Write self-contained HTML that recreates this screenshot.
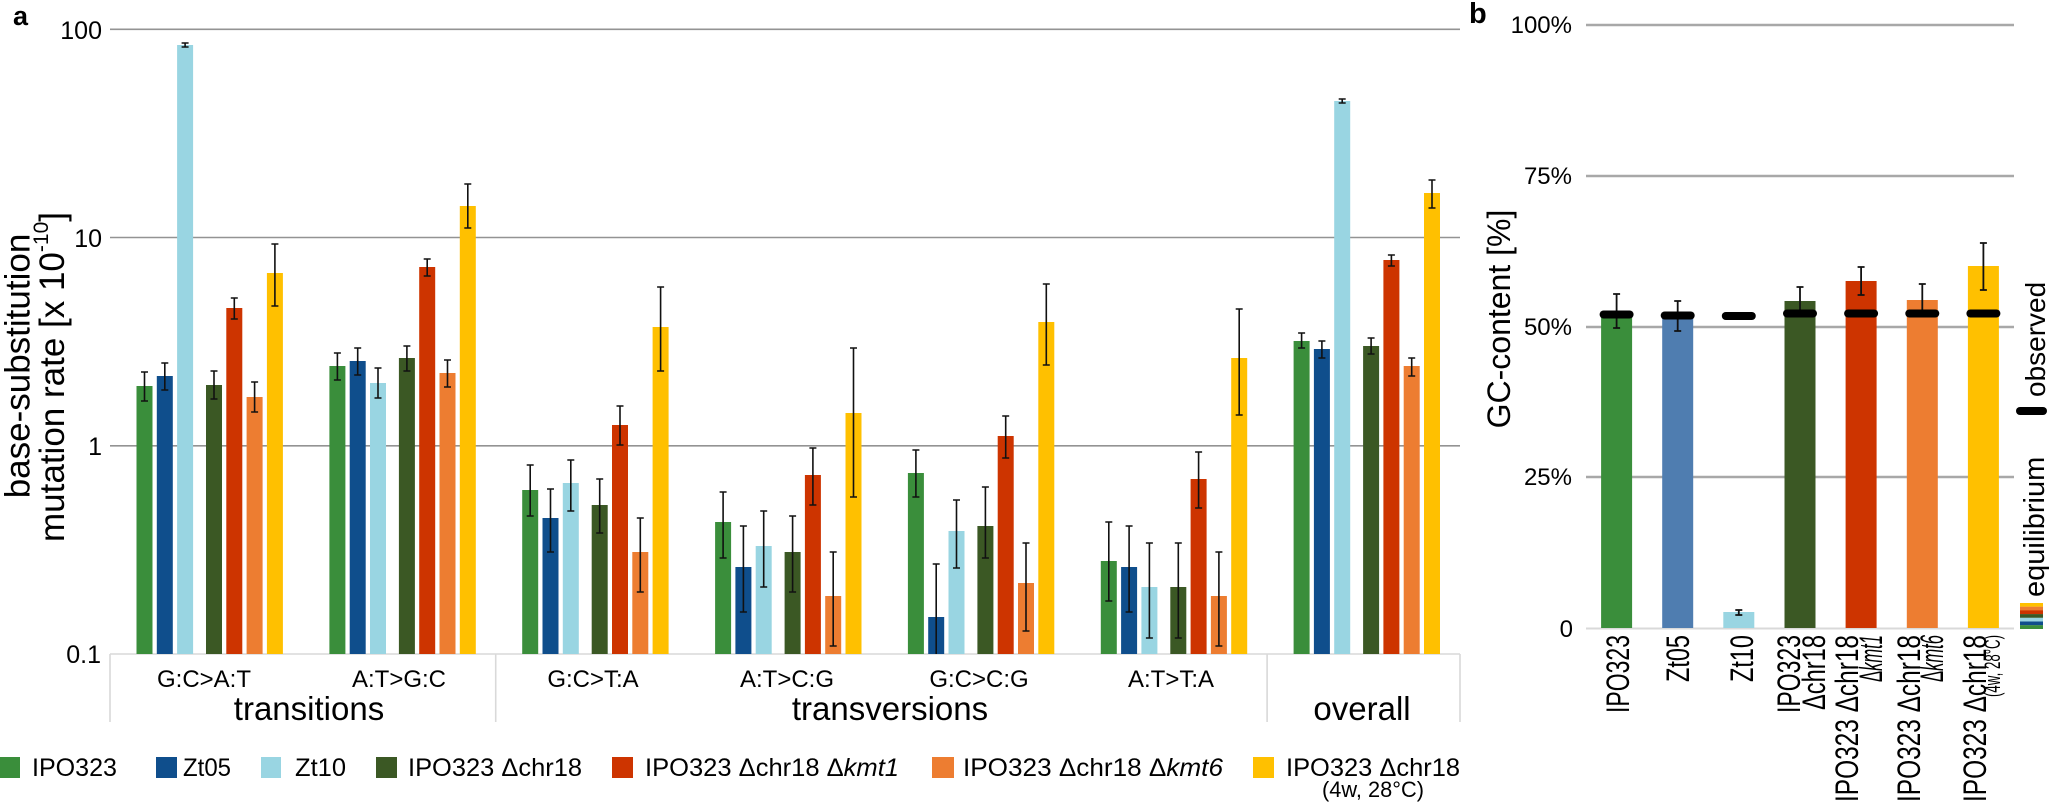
<!DOCTYPE html>
<html><head><meta charset="utf-8"><style>
html,body{margin:0;padding:0;background:#fff;}
svg{display:block;font-family:"Liberation Sans",Arial,sans-serif;}
</style></head><body>
<svg width="2049" height="805" viewBox="0 0 2049 805" xmlns="http://www.w3.org/2000/svg">
<rect width="2049" height="805" fill="#fff"/>
<!-- ===== Panel a ===== -->
<text x="13" y="25" font-size="27" font-weight="bold">a</text>
<g stroke="#939393" stroke-width="1.6">
<line x1="110" y1="29.3" x2="1460" y2="29.3"/>
<line x1="110" y1="237.5" x2="1460" y2="237.5"/>
<line x1="110" y1="445.8" x2="1460" y2="445.8"/>
</g>
<g stroke="#d9d9d9" stroke-width="1.6">
<line x1="110" y1="654" x2="1460" y2="654"/>
<line x1="110" y1="654" x2="110" y2="722"/>
<line x1="495.7" y1="654" x2="495.7" y2="722"/>
<line x1="1267.1" y1="654" x2="1267.1" y2="722"/>
<line x1="1460" y1="654" x2="1460" y2="722"/>
</g>
<g font-size="25" text-anchor="end">
<text x="102" y="39">100</text>
<text x="102" y="247">10</text>
<text x="102" y="455">1</text>
<text x="101" y="663">0.1</text>
</g>
<text transform="translate(29.5,366) rotate(-90)" text-anchor="middle" font-size="35">base-substitution</text>
<text transform="translate(64,377) rotate(-90)" text-anchor="middle" font-size="35">mutation rate [x 10<tspan dy="-16" font-size="21">-10</tspan><tspan dy="16">]</tspan></text>

<!-- bars panel a -->
<g>
<g fill="#3a8e3b">
<rect x="136.5" y="386" width="16" height="268"/>
<rect x="329.4" y="366" width="16" height="288"/>
<rect x="522.2" y="490" width="16" height="164"/>
<rect x="715.1" y="522" width="16" height="132"/>
<rect x="907.9" y="473" width="16" height="181"/>
<rect x="1100.8" y="561" width="16" height="93"/>
<rect x="1293.6" y="341" width="16" height="313"/>
</g>
<g fill="#0f4e8c">
<rect x="156.8" y="376" width="16" height="278"/>
<rect x="349.7" y="361" width="16" height="293"/>
<rect x="542.5" y="518" width="16" height="136"/>
<rect x="735.4" y="567" width="16" height="87"/>
<rect x="928.2" y="617" width="16" height="37"/>
<rect x="1121.1" y="567" width="16" height="87"/>
<rect x="1313.9" y="349" width="16" height="305"/>
</g>
<g fill="#99d5e2">
<rect x="177.1" y="45" width="16" height="609"/>
<rect x="370" y="383" width="16" height="271"/>
<rect x="562.8" y="483" width="16" height="171"/>
<rect x="755.7" y="546" width="16" height="108"/>
<rect x="948.5" y="531" width="16" height="123"/>
<rect x="1141.4" y="587" width="16" height="67"/>
<rect x="1334.2" y="101" width="16" height="553"/>
</g>
<g fill="#3b5824">
<rect x="206" y="385" width="16" height="269"/>
<rect x="398.9" y="358" width="16" height="296"/>
<rect x="591.7" y="505" width="16" height="149"/>
<rect x="784.6" y="552" width="16" height="102"/>
<rect x="977.4" y="526" width="16" height="128"/>
<rect x="1170.3" y="587" width="16" height="67"/>
<rect x="1363.1" y="346" width="16" height="308"/>
</g>
<g fill="#cd3400">
<rect x="226.3" y="308" width="16" height="346"/>
<rect x="419.2" y="267" width="16" height="387"/>
<rect x="612" y="425" width="16" height="229"/>
<rect x="804.9" y="475" width="16" height="179"/>
<rect x="997.7" y="436" width="16" height="218"/>
<rect x="1190.6" y="479" width="16" height="175"/>
<rect x="1383.4" y="260" width="16" height="394"/>
</g>
<g fill="#ed7d31">
<rect x="246.6" y="397" width="16" height="257"/>
<rect x="439.5" y="373" width="16" height="281"/>
<rect x="632.3" y="552" width="16" height="102"/>
<rect x="825.2" y="596" width="16" height="58"/>
<rect x="1018" y="583" width="16" height="71"/>
<rect x="1210.9" y="596" width="16" height="58"/>
<rect x="1403.7" y="366" width="16" height="288"/>
</g>
<g fill="#ffc000">
<rect x="266.9" y="273" width="16" height="381"/>
<rect x="459.8" y="206" width="16" height="448"/>
<rect x="652.6" y="327" width="16" height="327"/>
<rect x="845.5" y="413" width="16" height="241"/>
<rect x="1038.3" y="322" width="16" height="332"/>
<rect x="1231.2" y="358" width="16" height="296"/>
<rect x="1424" y="193" width="16" height="461"/>
</g>
</g>
<!-- error bars panel a -->
<path fill="none" stroke="#111" stroke-width="1.6" d="
M144.5,372V401M141,372H148M141,401H148
M164.8,363V390M161.3,363H168.3M161.3,390H168.3
M185.1,43V47M181.6,43H188.6M181.6,47H188.6
M214,371V399M210.5,371H217.5M210.5,399H217.5
M234.3,298V319M230.8,298H237.8M230.8,319H237.8
M254.6,382V412M251.1,382H258.1M251.1,412H258.1
M274.9,244V306M271.4,244H278.4M271.4,306H278.4
M337.4,353V380M333.9,353H340.9M333.9,380H340.9
M357.7,348V375M354.2,348H361.2M354.2,375H361.2
M378,368V398M374.5,368H381.5M374.5,398H381.5
M406.9,346V371M403.4,346H410.4M403.4,371H410.4
M427.2,259V276M423.7,259H430.7M423.7,276H430.7
M447.5,360V387M444,360H451M444,387H451
M467.8,184V228M464.3,184H471.3M464.3,228H471.3
M530.2,465V516M526.7,465H533.7M526.7,516H533.7
M550.5,489V552M547,489H554M547,552H554
M570.8,460V511M567.3,460H574.3M567.3,511H574.3
M599.7,479V533M596.2,479H603.2M596.2,533H603.2
M620,406V445M616.5,406H623.5M616.5,445H623.5
M640.3,518V592M636.8,518H643.8M636.8,592H643.8
M660.6,287V371M657.1,287H664.1M657.1,371H664.1
M723.1,492V558M719.6,492H726.6M719.6,558H726.6
M743.4,526V612M739.9,526H746.9M739.9,612H746.9
M763.7,511V587M760.2,511H767.2M760.2,587H767.2
M792.6,516V592M789.1,516H796.1M789.1,592H796.1
M812.9,448V505M809.4,448H816.4M809.4,505H816.4
M833.2,552V646M829.7,552H836.7M829.7,646H836.7
M853.5,348V497M850,348H857M850,497H857
M915.9,450V497M912.4,450H919.4M912.4,497H919.4
M936.2,564V654M932.7,564H939.7
M956.5,500V568M953,500H960M953,568H960
M985.4,487V558M981.9,487H988.9M981.9,558H988.9
M1005.7,416V458M1002.2,416H1009.2M1002.2,458H1009.2
M1026,543V631M1022.5,543H1029.5M1022.5,631H1029.5
M1046.3,284V365M1042.8,284H1049.8M1042.8,365H1049.8
M1108.8,522V601M1105.3,522H1112.3M1105.3,601H1112.3
M1129.1,526V612M1125.6,526H1132.6M1125.6,612H1132.6
M1149.4,543V638M1145.9,543H1152.9M1145.9,638H1152.9
M1178.3,543V638M1174.8,543H1181.8M1174.8,638H1181.8
M1198.6,452V508M1195.1,452H1202.1M1195.1,508H1202.1
M1218.9,552V646M1215.4,552H1222.4M1215.4,646H1222.4
M1239.2,309V415M1235.7,309H1242.7M1235.7,415H1242.7
M1301.6,333V348M1298.1,333H1305.1M1298.1,348H1305.1
M1321.9,341V358M1318.4,341H1325.4M1318.4,358H1325.4
M1342.2,99V103M1338.7,99H1345.7M1338.7,103H1345.7
M1371.1,338V354M1367.6,338H1374.6M1367.6,354H1374.6
M1391.4,255V266M1387.9,255H1394.9M1387.9,266H1394.9
M1411.7,358V376M1408.2,358H1415.2M1408.2,376H1415.2
M1432,180V208M1428.5,180H1435.5M1428.5,208H1435.5"/>

<!-- category labels -->
<g font-size="24" text-anchor="middle">
<text x="204" y="687">G:C&gt;A:T</text>
<text x="399" y="687">A:T&gt;G:C</text>
<text x="593" y="687">G:C&gt;T:A</text>
<text x="787" y="687">A:T&gt;C:G</text>
<text x="979" y="687">G:C&gt;C:G</text>
<text x="1171" y="687">A:T&gt;T:A</text>
</g>
<g font-size="33" text-anchor="middle">
<text x="309" y="720">transitions</text>
<text x="890" y="720">transversions</text>
<text x="1362" y="720">overall</text>
</g>

<!-- legend -->
<rect x="0" y="757" width="20" height="21" fill="#3a8e3b"/>
<rect x="156" y="757" width="21" height="21" fill="#0f4e8c"/>
<rect x="261" y="757" width="20" height="21" fill="#99d5e2"/>
<rect x="376" y="757" width="21" height="21" fill="#3b5824"/>
<rect x="612" y="757" width="21" height="21" fill="#cd3400"/>
<rect x="932" y="757" width="22" height="21" fill="#ed7d31"/>
<rect x="1253" y="757" width="21" height="21" fill="#ffc000"/>
<g font-size="25">
<text x="32" y="776" textLength="85" lengthAdjust="spacingAndGlyphs">IPO323</text>
<text x="183" y="776" textLength="48" lengthAdjust="spacingAndGlyphs">Zt05</text>
<text x="295" y="776" textLength="51" lengthAdjust="spacingAndGlyphs">Zt10</text>
<text x="408" y="776" textLength="174" lengthAdjust="spacingAndGlyphs">IPO323 Δchr18</text>
<text x="645" y="776" textLength="254" lengthAdjust="spacingAndGlyphs">IPO323 Δchr18 Δ<tspan font-style="italic">kmt1</tspan></text>
<text x="963" y="776" textLength="260" lengthAdjust="spacingAndGlyphs">IPO323 Δchr18 Δ<tspan font-style="italic">kmt6</tspan></text>
<text x="1286" y="776" textLength="174" lengthAdjust="spacingAndGlyphs">IPO323 Δchr18</text>
</g>
<text x="1373" y="797" font-size="22" text-anchor="middle" textLength="102" lengthAdjust="spacingAndGlyphs">(4w, 28°C)</text>

<!-- ===== Panel b ===== -->
<text x="1469" y="23" font-size="29" font-weight="bold">b</text>
<g stroke="#a8a8a8" stroke-width="2.4">
<line x1="1586" y1="25" x2="2014" y2="25"/>
<line x1="1586" y1="176" x2="2014" y2="176"/>
<line x1="1586" y1="327" x2="2014" y2="327"/>
<line x1="1586" y1="477" x2="2014" y2="477"/>
</g>
<line x1="1586" y1="628.5" x2="2014" y2="628.5" stroke="#d9d9d9" stroke-width="2"/>
<g font-size="24" text-anchor="end">
<text x="1572" y="33">100%</text>
<text x="1572" y="184">75%</text>
<text x="1572" y="335">50%</text>
<text x="1572" y="485">25%</text>
<text x="1573" y="637">0</text>
</g>
<text transform="translate(1510,319) rotate(-90)" text-anchor="middle" font-size="32">GC-content [%]</text>

<rect x="1601.1" y="316" width="31" height="312" fill="#3a8e3b"/>
<rect x="1662.2" y="318" width="31" height="310" fill="#4f7db0"/>
<rect x="1723.3" y="612" width="31" height="16" fill="#99d5e2"/>
<rect x="1784.5" y="301" width="31" height="327" fill="#3b5824"/>
<rect x="1845.6" y="281" width="31" height="347" fill="#cd3400"/>
<rect x="1906.8" y="300" width="31" height="328" fill="#ed7d31"/>
<rect x="1967.9" y="266" width="31" height="362" fill="#ffc000"/>

<path fill="none" stroke="#111" stroke-width="1.8" d="
M1616.6,294V328M1613.1,294H1620.1M1613.1,328H1620.1
M1677.7,301V331M1674.2,301H1681.2M1674.2,331H1681.2
M1738.8,610V615M1735.3,610H1742.3M1735.3,615H1742.3
M1800,287V315M1796.5,287H1803.5
M1861.1,267V295M1857.6,267H1864.6M1857.6,295H1864.6
M1922.3,284V316M1918.8,284H1925.8
M1983.4,243V290M1979.9,243H1986.9M1979.9,290H1986.9"/>

<g stroke="#000" stroke-width="8" stroke-linecap="round">
<line x1="1603.6" y1="314.5" x2="1629.6" y2="314.5"/>
<line x1="1664.7" y1="315.5" x2="1690.7" y2="315.5"/>
<line x1="1725.8" y1="316" x2="1751.8" y2="316"/>
<line x1="1787" y1="313.5" x2="1813" y2="313.5"/>
<line x1="1848.1" y1="313.5" x2="1874.1" y2="313.5"/>
<line x1="1909.3" y1="313.5" x2="1935.3" y2="313.5"/>
<line x1="1970.4" y1="313.5" x2="1996.4" y2="313.5"/>
<line x1="2020" y1="411" x2="2043" y2="411"/>
</g>

<!-- panel b category labels -->
<g font-size="32" text-anchor="end">
<text transform="translate(1629,635) rotate(-90)" textLength="78" lengthAdjust="spacingAndGlyphs">IPO323</text>
<text transform="translate(1689,635) rotate(-90)" textLength="47" lengthAdjust="spacingAndGlyphs">Zt05</text>
<text transform="translate(1753,635) rotate(-90)" textLength="47" lengthAdjust="spacingAndGlyphs">Zt10</text>
<text transform="translate(1800,635) rotate(-90)" textLength="78" lengthAdjust="spacingAndGlyphs">IPO323</text>
<text transform="translate(1825,635) rotate(-90)" textLength="75" lengthAdjust="spacingAndGlyphs">Δchr18</text>
<text transform="translate(1858,635) rotate(-90)" textLength="167" lengthAdjust="spacingAndGlyphs">IPO323 Δchr18</text>
<text transform="translate(1882,635) rotate(-90)" textLength="47" lengthAdjust="spacingAndGlyphs">Δ<tspan font-style="italic">kmt1</tspan></text>
<text transform="translate(1920,635) rotate(-90)" textLength="167" lengthAdjust="spacingAndGlyphs">IPO323 Δchr18</text>
<text transform="translate(1943,635) rotate(-90)" textLength="47" lengthAdjust="spacingAndGlyphs">Δ<tspan font-style="italic">kmt6</tspan></text>
<text transform="translate(1986,635) rotate(-90)" textLength="167" lengthAdjust="spacingAndGlyphs">IPO323 Δchr18</text>
</g>
<text transform="translate(2000,635) rotate(-90)" font-size="22" text-anchor="end" textLength="62" lengthAdjust="spacingAndGlyphs">(4w, 28°C)</text>

<!-- right legend -->
<text transform="translate(2045,397) rotate(-90)" font-size="28">observed</text>
<text transform="translate(2044,597) rotate(-90)" font-size="29">equilibrium</text>
<rect x="2020" y="603" width="23" height="3.8" fill="#ffc000"/>
<rect x="2020" y="606.7" width="23" height="3.8" fill="#ed7d31"/>
<rect x="2020" y="610.4" width="23" height="3.8" fill="#cd3400"/>
<rect x="2020" y="614.1" width="23" height="3.8" fill="#3b5824"/>
<rect x="2020" y="617.8" width="23" height="3.8" fill="#99d5e2"/>
<rect x="2020" y="621.5" width="23" height="3.8" fill="#0f4e8c"/>
<rect x="2020" y="625.2" width="23" height="3.8" fill="#3a8e3b"/>
</svg>
</body></html>
